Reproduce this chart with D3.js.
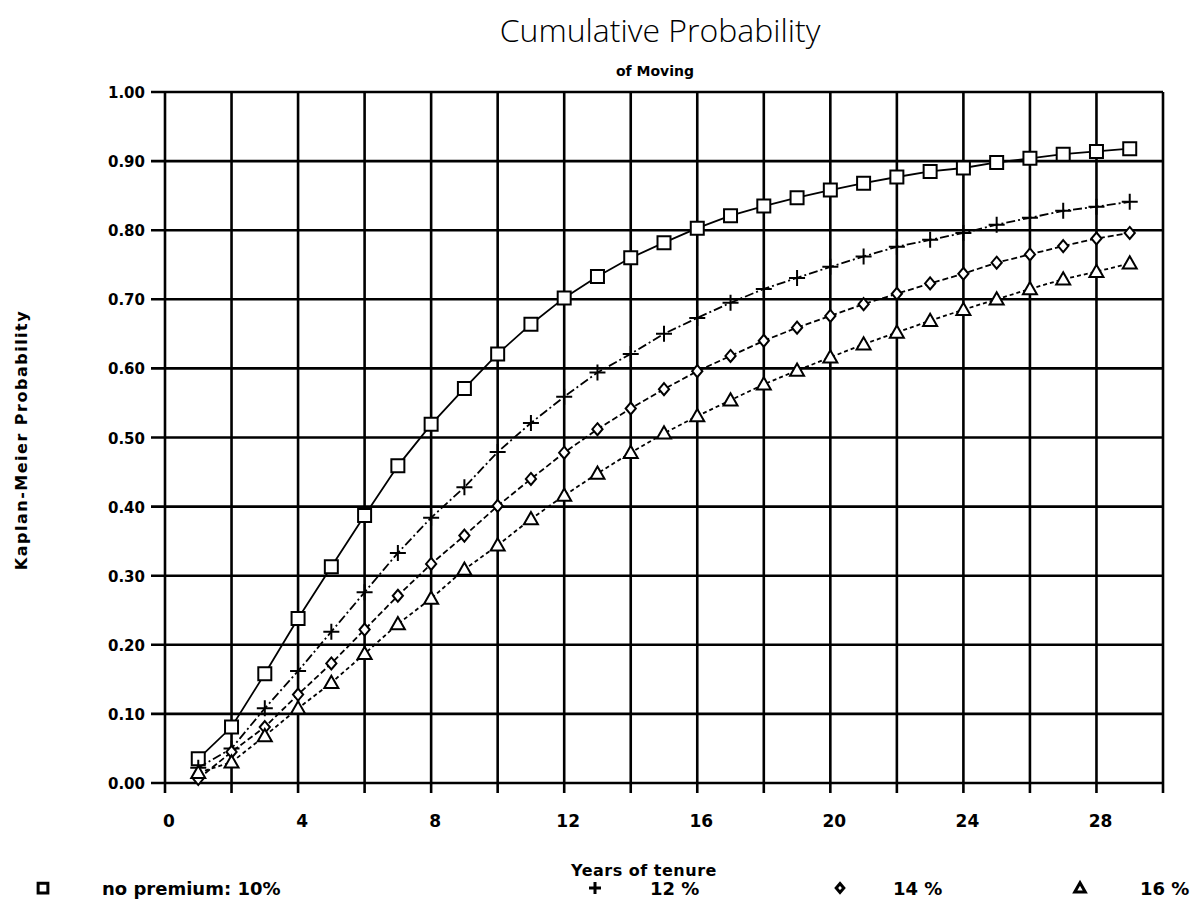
<!DOCTYPE html>
<html>
<head>
<meta charset="utf-8">
<script src="https://cdn.jsdelivr.net/npm/d3@7"></script>
<style>
  body { margin: 0; background: #fff; }
  text { font-family: "DejaVu Sans", sans-serif; fill: #000; }
</style>
</head>
<body>
<svg id="svg" width="1202" height="907"></svg>
<script>
// years of tenure
var years = d3.range(1, 30);
// Kaplan-Meier cumulative probability
var noPremium = [0.035, 0.081, 0.158, 0.238, 0.313, 0.387, 0.459, 0.519, 0.571, 0.621, 0.664, 0.702, 0.733, 0.760,
  0.782, 0.803, 0.821, 0.835, 0.847, 0.858, 0.868, 0.877, 0.885, 0.890, 0.898, 0.904, 0.910, 0.914, 0.918];
var prem12 = [0.022, 0.050, 0.108, 0.162, 0.219, 0.276, 0.333, 0.384, 0.428, 0.479, 0.521, 0.559, 0.594, 0.621,
  0.650, 0.673, 0.695, 0.715, 0.731, 0.747, 0.762, 0.776, 0.786, 0.796, 0.808, 0.818, 0.828, 0.834, 0.841];
var prem14 = [0.006, 0.045, 0.081, 0.128, 0.173, 0.222, 0.271, 0.317, 0.358, 0.401, 0.440, 0.478, 0.512, 0.542,
  0.570, 0.596, 0.618, 0.640, 0.659, 0.676, 0.693, 0.708, 0.723, 0.737, 0.753, 0.765, 0.777, 0.788, 0.796];
var prem16 = [0.015, 0.030, 0.068, 0.108, 0.145, 0.187, 0.230, 0.267, 0.309, 0.344, 0.382, 0.416, 0.448, 0.478,
  0.506, 0.531, 0.554, 0.577, 0.597, 0.616, 0.635, 0.652, 0.669, 0.685, 0.700, 0.715, 0.729, 0.740, 0.752];
var xTicks = [0, 4, 8, 12, 16, 20, 24, 28];
var yTicks = d3.range(0, 1.0001, 0.1);
var seriesNames = ["no premium: 10%", "12 %", "14 %", "16 %"];

var svg = d3.select("#svg");
var x = d3.scaleLinear().domain([0, 30]).range([165, 1163]);
var y = d3.scaleLinear().domain([0, 1]).range([783, 92]);

// grid, every 2 years and every 0.10
var xGrid = d3.range(0, 31, 2);
svg.append("g").selectAll("line").data(xGrid).enter().append("line")
  .attr("x1", function(d) { return x(d); })
  .attr("x2", function(d) { return x(d); })
  .attr("y1", y(1))
  .attr("y2", y(0) + 10)
  .attr("stroke", "#000").attr("stroke-width", 2.6);
svg.append("g").selectAll("line").data(yTicks).enter().append("line")
  .attr("x1", x(0) - 14)
  .attr("x2", x(30))
  .attr("y1", function(d) { return y(d); })
  .attr("y2", function(d) { return y(d); })
  .attr("stroke", "#000").attr("stroke-width", 2.6);

// tick labels
svg.append("g").selectAll("text").data(yTicks).enter().append("text")
  .attr("x", 145)
  .attr("y", function(d) { return y(d) + 6; })
  .attr("text-anchor", "end")
  .style("font-size", "15px").style("font-weight", "bold")
  .text(function(d) { return d3.format(".2f")(d); });
svg.append("g").selectAll("text").data(xTicks).enter().append("text")
  .attr("x", function(d) { return x(d) + 4; })
  .attr("y", 827)
  .attr("text-anchor", "middle")
  .style("font-size", "17px").style("font-weight", "bold")
  .text(function(d) { return d; });

// titles
svg.append("text").attr("x", 660).attr("y", 42).attr("text-anchor", "middle")
  .style("font-size", "32px").style("font-weight", "300").style("font-family", "'Open Sans', sans-serif")
  .text("Cumulative Probability");
svg.append("text").attr("x", 655).attr("y", 76).attr("text-anchor", "middle")
  .style("font-size", "14px").style("font-weight", "bold")
  .text("of Moving");
svg.append("text").attr("x", 644).attr("y", 876).attr("text-anchor", "middle")
  .style("font-size", "16px").style("font-weight", "bold").style("letter-spacing", "0.5px")
  .text("Years of tenure");
svg.append("text").attr("transform", "translate(27,440) rotate(-90)").attr("text-anchor", "middle")
  .style("font-size", "16px").style("font-weight", "bold").style("letter-spacing", "1.5px")
  .text("Kaplan-Meier Probability");

var series = [
  { vals: noPremium, sym: "square", size: 13, dash: null },
  { vals: prem12, sym: "cross", size: 8, dash: "9,3,2,3" },
  { vals: prem14, sym: "diamond", size: 6, dash: "6,3" },
  { vals: prem16, sym: "triangle", size: 7, dash: "4,3" }
];

var line = d3.line()
  .x(function(d, i) { return x(years[i]); })
  .y(function(d) { return y(d); });

function drawMarker(g, s, cx, cy, legend) {
  var h = legend ? s.size * 0.75 : s.size;
  var p = d3.path();
  if (s.sym === "cross") {
    p.moveTo(cx - h, cy); p.lineTo(cx + h, cy);
    p.moveTo(cx, cy - h); p.lineTo(cx, cy + h);
  } else if (s.sym === "square") {
    p.rect(cx - h / 2, cy - h / 2, h, h);
  } else if (s.sym === "diamond") {
    p.moveTo(cx, cy - h); p.lineTo(cx + h * 0.85, cy); p.lineTo(cx, cy + h); p.lineTo(cx - h * 0.85, cy); p.closePath();
  } else {
    p.moveTo(cx, cy - h); p.lineTo(cx + h, cy + h * 0.75); p.lineTo(cx - h, cy + h * 0.75); p.closePath();
  }
  g.append("path").attr("d", p.toString())
    .attr("fill", s.sym === "cross" ? "none" : "#fff")
    .attr("stroke", "#000").attr("stroke-width", legend ? 3 : 2);
}

series.forEach(function(s) {
  svg.append("path").datum(s.vals)
    .attr("d", line)
    .attr("fill", "none")
    .attr("stroke", "#000")
    .attr("stroke-width", 1.8)
    .attr("stroke-dasharray", s.dash);
  var g = svg.append("g");
  s.vals.forEach(function(v, i) { drawMarker(g, s, x(years[i]), y(v), false); });
});

// legend
var legendX = [43, 595, 840, 1080];
var legendTextX = [102, 650, 893, 1140];
series.forEach(function(s, i) {
  var g = svg.append("g");
  drawMarker(g, s, legendX[i], 888, true);
  svg.append("text").attr("x", legendTextX[i]).attr("y", 895)
    .style("font-size", "18px").style("font-weight", "bold")
    .text(seriesNames[i]);
});
</script>
</body>
</html>
